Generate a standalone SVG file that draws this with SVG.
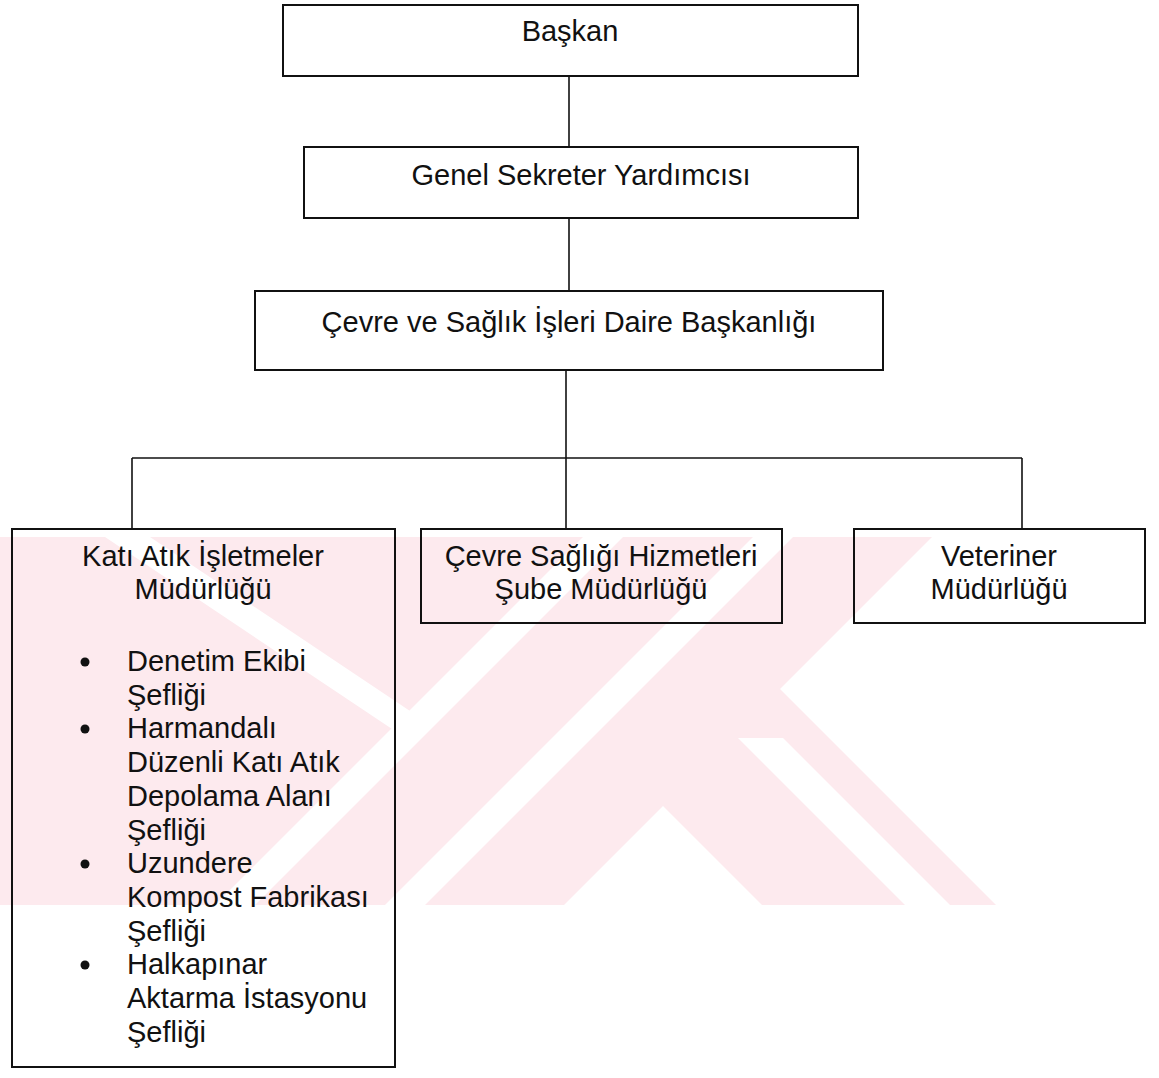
<svg xmlns="http://www.w3.org/2000/svg" width="1159" height="1078" viewBox="0 0 1159 1078">
  <style>
    .box { fill: none; stroke: #111; stroke-width: 2; }
    .wire { fill: none; stroke: #111; stroke-width: 1.6; }
    .lbl { font-family: "Liberation Sans", Arial, sans-serif; font-size: 29px; fill: #111; }
    .c { text-anchor: middle; }
    .dot { fill: #111; }
    .mark { fill: #fdeaee; }
    .gap { fill: #ffffff; }
  </style>
  <defs>
    <clipPath id="markArea">
      <rect x="0" y="537" width="1159" height="368"/>
    </clipPath>
  </defs>
  <rect width="1159" height="1078" fill="#ffffff"/>

  <!-- pale background emblem behind the lower tier -->
  <g id="emblem" clip-path="url(#markArea)">
    <polygon class="mark" points="0,537 932,537 780,689 996,905 762,905 663,806 564,905 0,905"/>
    <polygon class="gap" points="738,738 783,738 950,905 905,905"/>
    <polygon class="gap" points="1290,0 1330,0 425,905 385,905"/>
    <polygon class="gap" points="1120,0 1160,0 255,905 215,905"/>
    <polygon class="gap" points="105,537 150,537 410,711 410,741"/>
  </g>

  <!-- connectors -->
  <g id="connectors">
    <line class="wire" x1="569" y1="76" x2="569" y2="147"/>
    <line class="wire" x1="569" y1="218" x2="569" y2="291"/>
    <line class="wire" x1="566" y1="370" x2="566" y2="529"/>
    <line class="wire" x1="132" y1="458" x2="1022" y2="458"/>
    <line class="wire" x1="132" y1="458" x2="132" y2="529"/>
    <line class="wire" x1="1022" y1="458" x2="1022" y2="529"/>
  </g>

  <g id="baskan">
    <rect class="box" x="283" y="5" width="575" height="71"/>
    <text class="lbl c" x="570" y="41">Başkan</text>
  </g>

  <g id="genel-sekreter-yardimcisi">
    <rect class="box" x="304" y="147" width="554" height="71"/>
    <text class="lbl c" x="581" y="185">Genel Sekreter Yardımcısı</text>
  </g>

  <g id="cevre-saglik-daire">
    <rect class="box" x="255" y="291" width="628" height="79"/>
    <text class="lbl c" x="569" y="332">Çevre ve Sağlık İşleri Daire Başkanlığı</text>
  </g>

  <g id="kati-atik">
    <rect class="box" x="12" y="529" width="383" height="538"/>
    <text class="lbl c" x="203" y="566">Katı Atık İşletmeler</text>
    <text class="lbl c" x="203" y="599">Müdürlüğü</text>
    <circle class="dot" cx="85" cy="662" r="4.5"/>
    <circle class="dot" cx="85" cy="729" r="4.5"/>
    <circle class="dot" cx="85" cy="864" r="4.5"/>
    <circle class="dot" cx="85" cy="965" r="4.5"/>
    <text class="lbl">
      <tspan x="127" y="671">Denetim Ekibi</tspan>
      <tspan x="127" y="705">Şefliği</tspan>
      <tspan x="127" y="738">Harmandalı</tspan>
      <tspan x="127" y="772">Düzenli Katı Atık</tspan>
      <tspan x="127" y="806">Depolama Alanı</tspan>
      <tspan x="127" y="840">Şefliği</tspan>
      <tspan x="127" y="873">Uzundere</tspan>
      <tspan x="127" y="907">Kompost Fabrikası</tspan>
      <tspan x="127" y="941">Şefliği</tspan>
      <tspan x="127" y="974">Halkapınar</tspan>
      <tspan x="127" y="1008">Aktarma İstasyonu</tspan>
      <tspan x="127" y="1042">Şefliği</tspan>
    </text>
  </g>

  <g id="cevre-sagligi-hizmetleri">
    <rect class="box" x="421" y="529" width="361" height="94"/>
    <text class="lbl c" x="601" y="566">Çevre Sağlığı Hizmetleri</text>
    <text class="lbl c" x="601" y="599">Şube Müdürlüğü</text>
  </g>

  <g id="veteriner">
    <rect class="box" x="854" y="529" width="291" height="94"/>
    <text class="lbl c" x="999" y="566">Veteriner</text>
    <text class="lbl c" x="999" y="599">Müdürlüğü</text>
  </g>
</svg>
